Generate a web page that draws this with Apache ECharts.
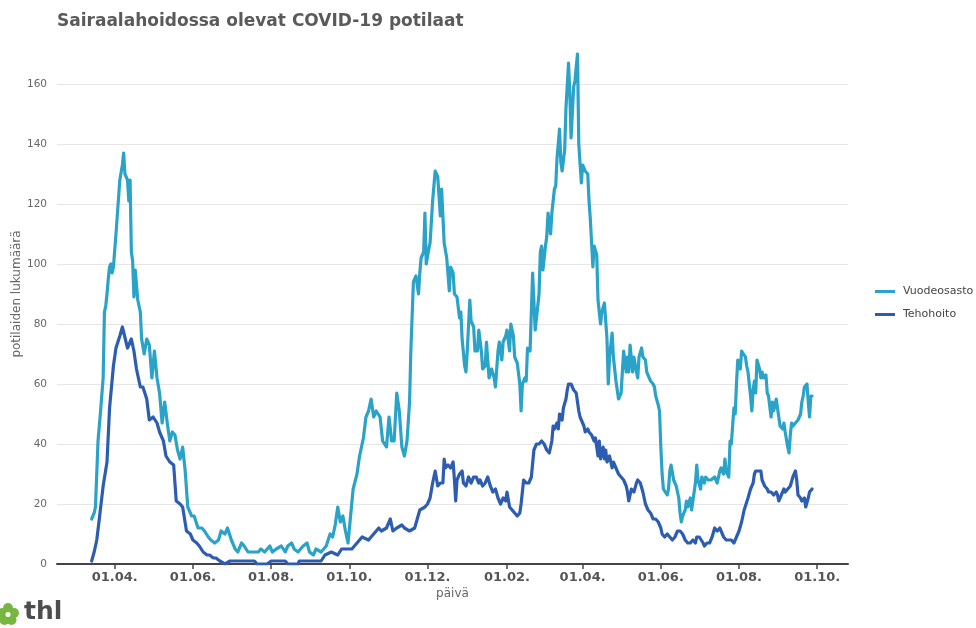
<!DOCTYPE html>
<html><head><meta charset="utf-8">
<script src="https://cdn.jsdelivr.net/npm/echarts@6/dist/echarts.min.js"></script>
<style>html,body{margin:0;padding:0;background:#fff}#chart{width:976px;height:628px}</style>
</head><body><div id="chart"></div>
<script>
const titleText = 'Sairaalahoidossa olevat COVID-19 potilaat';
const seriesNames = ['Vuodeosasto', 'Tehohoito'];
const seriesColors = ['#2ba3c8', '#2d5db1'];
const xRange = ['2020-02-16', '2021-10-25'];
const tickDates = ['2020-04-01','2020-06-01','2020-08-01','2020-10-01','2020-12-01','2021-02-01','2021-04-01','2021-06-01','2021-08-01','2021-10-01'];
const tickLabels = ['01.04.','01.06.','01.08.','01.10.','01.12.','01.02.','01.04.','01.06.','01.08.','01.10.'];

const vuodeosasto = [
['2020-03-14',15],['2020-03-16',17],['2020-03-17',19],['2020-03-19',41],['2020-03-21',51],['2020-03-23',62],['2020-03-24',84],['2020-03-25',86],['2020-03-26',90],['2020-03-27',95],['2020-03-28',99],['2020-03-29',100],['2020-03-30',97],['2020-03-31',99],
['2020-04-02',110],['2020-04-05',128],['2020-04-07',133],['2020-04-08',137],['2020-04-09',130],['2020-04-11',128],['2020-04-12',121],['2020-04-13',128],['2020-04-14',104],['2020-04-15',101],['2020-04-16',89],['2020-04-17',98],['2020-04-19',88],['2020-04-21',84],['2020-04-22',75],['2020-04-24',70],['2020-04-26',75],['2020-04-28',73],['2020-04-30',62],
['2020-05-02',71],['2020-05-04',62],['2020-05-06',57],['2020-05-08',47],['2020-05-10',54],['2020-05-12',47],['2020-05-14',41],['2020-05-16',44],['2020-05-18',43],['2020-05-20',38],['2020-05-22',35],['2020-05-24',39],['2020-05-26',31],['2020-05-28',19],['2020-05-31',16],
['2020-06-02',16],['2020-06-05',12],['2020-06-08',12],['2020-06-10',11],['2020-06-13',9],['2020-06-15',8],['2020-06-18',7],['2020-06-21',8],['2020-06-23',11],['2020-06-26',10],['2020-06-28',12],
['2020-07-01',8],['2020-07-04',5],['2020-07-06',4],['2020-07-09',7],['2020-07-11',6],['2020-07-14',4],['2020-07-18',4],['2020-07-22',4],['2020-07-24',5],['2020-07-27',4],['2020-07-31',6],
['2020-08-02',4],['2020-08-05',5],['2020-08-09',6],['2020-08-12',4],['2020-08-14',6],['2020-08-17',7],['2020-08-19',5],['2020-08-22',4],['2020-08-26',6],['2020-08-29',7],['2020-08-31',4],
['2020-09-03',3],['2020-09-05',5],['2020-09-09',4],['2020-09-13',6],['2020-09-16',10],['2020-09-18',9],['2020-09-20',13],['2020-09-22',19],['2020-09-24',14],['2020-09-26',16],['2020-09-28',11],['2020-09-30',7],
['2020-10-02',16],['2020-10-04',25],['2020-10-07',30],['2020-10-09',36],['2020-10-12',42],['2020-10-14',49],['2020-10-16',51],['2020-10-18',55],['2020-10-20',49],['2020-10-22',51],['2020-10-25',49],['2020-10-27',41],['2020-10-30',39],
['2020-11-01',49],['2020-11-03',41],['2020-11-05',41],['2020-11-07',57],['2020-11-09',51],['2020-11-11',39],['2020-11-13',36],['2020-11-15',41],['2020-11-17',54],['2020-11-18',71],['2020-11-20',94],['2020-11-22',96],['2020-11-24',90],['2020-11-25',97],['2020-11-26',102],['2020-11-28',104],['2020-11-29',117],['2020-11-30',100],
['2020-12-02',105],['2020-12-03',107],['2020-12-05',121],['2020-12-07',131],['2020-12-09',129],['2020-12-11',116],['2020-12-12',125],['2020-12-13',116],['2020-12-14',107],['2020-12-16',102],['2020-12-18',91],['2020-12-19',99],['2020-12-21',97],['2020-12-22',90],['2020-12-24',89],['2020-12-26',82],['2020-12-27',84],['2020-12-28',75],['2020-12-30',66],['2020-12-31',64],
['2021-01-01',71],['2021-01-03',88],['2021-01-04',81],['2021-01-06',79],['2021-01-07',71],['2021-01-09',71],['2021-01-10',78],['2021-01-12',71],['2021-01-13',65],['2021-01-15',66],['2021-01-16',74],['2021-01-18',62],['2021-01-20',65],['2021-01-22',62],['2021-01-23',59],['2021-01-25',71],['2021-01-26',74],['2021-01-28',68],['2021-01-29',74],['2021-01-31',76],
['2021-02-01',78],['2021-02-03',71],['2021-02-04',80],['2021-02-06',76],['2021-02-07',69],['2021-02-09',67],['2021-02-11',60],['2021-02-12',51],['2021-02-13',60],['2021-02-15',62],['2021-02-16',61],['2021-02-17',72],['2021-02-19',71],['2021-02-20',84],['2021-02-21',97],['2021-02-23',78],['2021-02-24',82],['2021-02-26',90],['2021-02-27',104],['2021-02-28',106],
['2021-03-01',98],['2021-03-03',106],['2021-03-04',109],['2021-03-05',117],['2021-03-07',110],['2021-03-08',117],['2021-03-10',125],['2021-03-11',126],['2021-03-12',135],['2021-03-14',145],['2021-03-15',134],['2021-03-16',131],['2021-03-18',138],['2021-03-19',152],['2021-03-21',167],['2021-03-22',157],['2021-03-23',142],['2021-03-25',159],['2021-03-26',161],['2021-03-28',170],['2021-03-29',140],['2021-03-31',127],
['2021-04-01',133],['2021-04-03',131],['2021-04-05',130],['2021-04-06',121],['2021-04-07',115],['2021-04-09',99],['2021-04-10',106],['2021-04-12',103],['2021-04-13',88],['2021-04-15',80],['2021-04-16',84],['2021-04-18',87],['2021-04-20',75],['2021-04-21',60],['2021-04-22',69],['2021-04-24',77],['2021-04-25',69],['2021-04-27',61],['2021-04-29',55],
['2021-05-01',57],['2021-05-02',64],['2021-05-03',71],['2021-05-05',64],['2021-05-06',69],['2021-05-07',64],['2021-05-08',73],['2021-05-10',64],['2021-05-11',69],['2021-05-13',64],['2021-05-14',62],['2021-05-15',69],['2021-05-17',72],['2021-05-18',69],['2021-05-20',68],['2021-05-21',64],['2021-05-23',62],['2021-05-24',61],['2021-05-26',60],['2021-05-27',59],['2021-05-28',56],['2021-05-30',53],['2021-05-31',51],
['2021-06-01',39],['2021-06-02',30],['2021-06-03',25],['2021-06-04',25],['2021-06-06',23],['2021-06-07',25],['2021-06-08',31],['2021-06-09',33],['2021-06-11',28],['2021-06-12',27],['2021-06-13',26],['2021-06-15',22],['2021-06-16',17],['2021-06-17',14],['2021-06-18',16],['2021-06-20',18],['2021-06-21',21],['2021-06-22',19],['2021-06-24',22],['2021-06-25',18],['2021-06-26',21],['2021-06-28',27],['2021-06-29',33],['2021-06-30',28],
['2021-07-02',25],['2021-07-03',29],['2021-07-05',27],['2021-07-06',29],['2021-07-08',28],['2021-07-10',28],['2021-07-11',28],['2021-07-13',29],['2021-07-15',27],['2021-07-17',31],['2021-07-18',32],['2021-07-20',30],['2021-07-21',35],['2021-07-22',31],['2021-07-24',29],['2021-07-25',41],['2021-07-26',40],['2021-07-28',52],['2021-07-29',50],['2021-07-30',60],['2021-07-31',68],
['2021-08-02',65],['2021-08-03',71],['2021-08-04',71],['2021-08-06',69],['2021-08-07',66],['2021-08-08',64],['2021-08-10',56],['2021-08-11',51],['2021-08-12',58],['2021-08-13',61],['2021-08-14',57],['2021-08-15',68],['2021-08-17',65],['2021-08-18',62],['2021-08-19',64],['2021-08-20',62],['2021-08-22',63],['2021-08-23',57],['2021-08-24',56],['2021-08-26',49],['2021-08-27',54],['2021-08-28',51],['2021-08-30',55],['2021-08-31',55],
['2021-09-01',49],['2021-09-02',46],['2021-09-04',45],['2021-09-05',47],['2021-09-06',44],['2021-09-08',39],['2021-09-09',37],['2021-09-10',43],['2021-09-11',47],['2021-09-12',46],['2021-09-14',47],['2021-09-15',47],['2021-09-16',48],['2021-09-18',50],['2021-09-19',54],['2021-09-20',56],['2021-09-21',59],['2021-09-23',60],['2021-09-24',54],['2021-09-25',49],['2021-09-26',56],['2021-09-27',56]
];

const tehohoito = [
['2020-03-14',1],['2020-03-16',4],['2020-03-18',8],['2020-03-20',15],['2020-03-23',26],['2020-03-26',34],['2020-03-28',52],['2020-03-31',66],
['2020-04-02',72],['2020-04-05',76],['2020-04-07',79],['2020-04-08',79],['2020-04-11',72],['2020-04-14',75],['2020-04-16',71],['2020-04-18',65],['2020-04-21',59],['2020-04-23',59],['2020-04-26',55],['2020-04-28',48],
['2020-05-01',49],['2020-05-04',47],['2020-05-06',44],['2020-05-09',41],['2020-05-11',36],['2020-05-14',34],['2020-05-17',33],['2020-05-18',27],['2020-05-19',21],['2020-05-22',20],['2020-05-24',19],['2020-05-27',11],['2020-05-30',10],
['2020-06-01',8],['2020-06-04',7],['2020-06-06',6],['2020-06-09',4],['2020-06-12',3],['2020-06-14',3],['2020-06-17',2],['2020-06-19',2],['2020-06-22',1],['2020-06-26',0],['2020-06-30',1],
['2020-07-08',1],['2020-07-15',1],['2020-07-19',1],['2020-07-21',0],['2020-07-29',0],['2020-08-01',1],['2020-08-12',1],['2020-08-14',0],['2020-08-22',0],['2020-08-23',1],
['2020-09-02',1],['2020-09-04',1],['2020-09-09',1],['2020-09-12',3],['2020-09-17',4],['2020-09-22',3],['2020-09-25',5],['2020-09-29',5],
['2020-10-03',5],['2020-10-07',7],['2020-10-11',9],['2020-10-16',8],['2020-10-20',10],['2020-10-24',12],['2020-10-26',11],['2020-10-30',12],
['2020-11-02',15],['2020-11-04',11],['2020-11-07',12],['2020-11-11',13],['2020-11-13',12],['2020-11-17',11],['2020-11-21',12],['2020-11-25',18],['2020-11-29',19],
['2020-12-01',20],['2020-12-03',22],['2020-12-05',27],['2020-12-07',31],['2020-12-09',26],['2020-12-11',27],['2020-12-13',27],['2020-12-14',35],['2020-12-15',32],['2020-12-17',33],['2020-12-19',32],['2020-12-21',34],['2020-12-22',28],['2020-12-23',21],['2020-12-24',28],['2020-12-26',30],['2020-12-28',31],['2020-12-29',27],['2020-12-31',26],
['2021-01-02',29],['2021-01-04',27],['2021-01-06',29],['2021-01-08',29],['2021-01-10',27],['2021-01-11',28],['2021-01-13',26],['2021-01-15',27],['2021-01-17',29],['2021-01-19',26],['2021-01-21',24],['2021-01-23',25],['2021-01-25',22],['2021-01-27',20],['2021-01-29',22],['2021-01-31',21],
['2021-02-01',24],['2021-02-03',19],['2021-02-05',18],['2021-02-07',17],['2021-02-09',16],['2021-02-11',17],['2021-02-12',20],['2021-02-14',28],['2021-02-16',27],['2021-02-18',27],['2021-02-20',29],['2021-02-22',38],['2021-02-24',40],['2021-02-26',40],['2021-02-28',41],
['2021-03-02',40],['2021-03-04',38],['2021-03-06',37],['2021-03-08',41],['2021-03-09',46],['2021-03-10',45],['2021-03-12',47],['2021-03-13',45],['2021-03-14',50],['2021-03-16',48],['2021-03-17',52],['2021-03-19',55],['2021-03-20',58],['2021-03-21',60],['2021-03-23',60],['2021-03-24',60],['2021-03-25',58],['2021-03-27',57],['2021-03-28',54],['2021-03-29',51],['2021-03-30',49],
['2021-04-01',47],['2021-04-02',46],['2021-04-03',44],['2021-04-05',45],['2021-04-06',44],['2021-04-08',43],['2021-04-09',43],['2021-04-10',41],['2021-04-11',42],['2021-04-13',36],['2021-04-14',41],['2021-04-15',35],['2021-04-17',39],['2021-04-18',35],['2021-04-19',38],['2021-04-20',34],['2021-04-22',36],['2021-04-24',32],['2021-04-25',34],['2021-04-27',32],['2021-04-29',30],
['2021-05-01',29],['2021-05-03',28],['2021-05-05',26],['2021-05-06',24],['2021-05-07',21],['2021-05-09',25],['2021-05-11',24],['2021-05-13',27],['2021-05-14',28],['2021-05-16',27],['2021-05-18',24],['2021-05-20',20],['2021-05-22',18],['2021-05-24',17],['2021-05-26',15],['2021-05-28',15],['2021-05-30',14],
['2021-06-01',12],['2021-06-02',10],['2021-06-04',9],['2021-06-06',10],['2021-06-08',9],['2021-06-10',8],['2021-06-12',9],['2021-06-14',11],['2021-06-16',11],['2021-06-18',10],['2021-06-20',8],['2021-06-22',7],['2021-06-24',7],['2021-06-26',8],['2021-06-28',7],['2021-06-29',9],
['2021-07-01',9],['2021-07-04',7],['2021-07-05',6],['2021-07-07',7],['2021-07-09',7],['2021-07-11',9],['2021-07-13',12],['2021-07-15',11],['2021-07-17',12],['2021-07-18',11],['2021-07-20',9],['2021-07-22',8],['2021-07-24',8],['2021-07-26',8],['2021-07-28',7],['2021-07-30',9],
['2021-08-01',11],['2021-08-03',14],['2021-08-05',18],['2021-08-06',18],['2021-08-08',22],['2021-08-10',25],['2021-08-12',27],['2021-08-13',30],['2021-08-14',31],['2021-08-16',31],['2021-08-18',31],['2021-08-19',28],['2021-08-21',26],['2021-08-23',25],['2021-08-24',24],['2021-08-26',24],['2021-08-28',23],['2021-08-30',24],['2021-08-31',23],
['2021-09-01',21],['2021-09-03',23],['2021-09-05',25],['2021-09-06',24],['2021-09-08',25],['2021-09-10',26],['2021-09-12',29],['2021-09-14',31],['2021-09-15',28],['2021-09-16',23],['2021-09-18',22],['2021-09-19',21],['2021-09-21',22],['2021-09-22',19],['2021-09-24',22],['2021-09-25',24],['2021-09-27',25]
];

const FONT = '"DejaVu Sans", sans-serif';
const toTime = d => echarts.number.parseDate(d).getTime();
const toPoints = arr => arr.map(p => [toTime(p[0]), p[1]]);
const tickValues = tickDates.map(toTime);

const chart = echarts.init(document.getElementById('chart'), null, {renderer: 'canvas'});
const option = {
  animation: false,
  backgroundColor: '#fff',
  title: {
    text: titleText, left: 57, top: 13, padding: 0,
    textStyle: {fontFamily: FONT, fontSize: 17, fontWeight: 'bold', color: '#5a5a5a'}
  },
  legend: {
    orient: 'vertical', left: 875, top: 286, padding: 0,
    icon: 'rect', itemWidth: 20, itemHeight: 3, itemGap: 12,
    data: seriesNames,
    textStyle: {fontFamily: FONT, fontSize: 11, color: '#444', padding: [0, 0, 0, 3]}
  },
  grid: {left: 57, right: 128, top: 24, bottom: 64, containLabel: false},
  xAxis: {
    type: 'value',
    min: toTime(xRange[0]), max: toTime(xRange[1]),
    name: 'päivä', nameLocation: 'middle', nameGap: 24, nameMoveOverlap: false,
    nameTextStyle: {fontFamily: FONT, fontSize: 12, color: '#666', verticalAlign: 'top'},
    axisLine: {show: true, lineStyle: {color: '#444', width: 2}},
    axisTick: {show: true, customValues: tickValues, length: 5, lineStyle: {color: '#444', width: 1.5}},
    axisLabel: {
      customValues: tickValues, margin: 7,
      fontFamily: FONT, fontSize: 13, fontWeight: 'bold', color: '#555',
      formatter: function (v) {
        const i = tickValues.indexOf(v);
        return i >= 0 ? tickLabels[i] : '';
      }
    },
    splitLine: {show: false}
  },
  yAxis: {
    type: 'value', min: 0, max: 180, interval: 20,
    name: 'potilaiden lukumäärä', nameLocation: 'middle', nameGap: 34, nameMoveOverlap: false,
    nameTextStyle: {fontFamily: FONT, fontSize: 12, color: '#666'},
    axisLine: {show: false}, axisTick: {show: false},
    axisLabel: {fontFamily: FONT, fontSize: 10.5, color: '#666', margin: 10, showMaxLabel: false},
    splitLine: {show: true, showMaxLine: false, lineStyle: {color: '#e6e6e6', width: 1}}
  },
  series: [
    {name: seriesNames[0], type: 'line', data: toPoints(vuodeosasto), showSymbol: false, symbol: 'none',
     lineStyle: {color: seriesColors[0], width: 3.2, join: 'round', cap: 'round'}, itemStyle: {color: seriesColors[0]}, z: 2},
    {name: seriesNames[1], type: 'line', data: toPoints(tehohoito), showSymbol: false, symbol: 'none',
     lineStyle: {color: seriesColors[1], width: 3.2, join: 'round', cap: 'round'}, itemStyle: {color: seriesColors[1]}, z: 3}
  ],
  graphic: [
    {type: 'group', left: -3, top: 603, children: [
      {type: 'circle', shape: {cx: 10, cy: 5, r: 5}, style: {fill: '#77b640'}},
      {type: 'circle', shape: {cx: 16, cy: 10, r: 5}, style: {fill: '#77b640'}},
      {type: 'circle', shape: {cx: 13.5, cy: 17, r: 5}, style: {fill: '#77b640'}},
      {type: 'circle', shape: {cx: 6.5, cy: 17, r: 5}, style: {fill: '#77b640'}},
      {type: 'circle', shape: {cx: 4, cy: 10, r: 5}, style: {fill: '#77b640'}},
      {type: 'circle', shape: {cx: 10, cy: 11.5, r: 2.5}, style: {fill: '#fff'}}
    ]},
    {type: 'text', left: 24, top: 600, style: {text: 'thl', font: 'bold 25px ' + FONT, fill: '#4d4d4d'}}
  ]
};
chart.setOption(option);
</script></body></html>
